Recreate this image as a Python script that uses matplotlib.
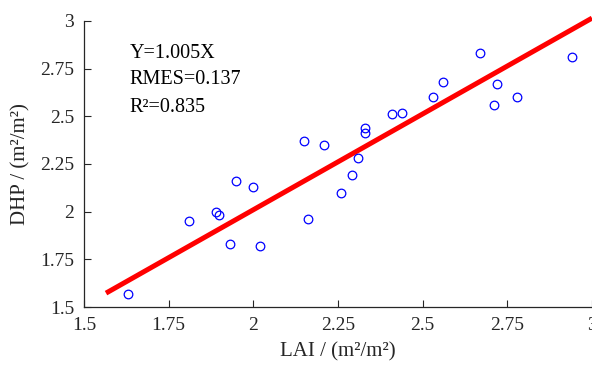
import numpy as np
import matplotlib
matplotlib.use("Agg")
from matplotlib import pyplot as plt

plt.rcParams['font.family'] = ['Liberation Serif', 'DejaVu Serif']

# LAI vs DHP samples
lai = [1.63, 1.81, 1.89, 1.90, 1.93, 1.95, 2.00, 2.02, 2.15, 2.16, 2.21, 2.26, 2.29,
       2.31, 2.33, 2.33, 2.41, 2.44, 2.53, 2.56, 2.67, 2.71, 2.72, 2.78, 2.94]
dhp = [1.57, 1.95, 2.00, 1.98, 1.83, 2.16, 2.13, 1.82, 2.37, 1.96, 2.35, 2.10, 2.19,
       2.28, 2.44, 2.41, 2.51, 2.52, 2.60, 2.68, 2.83, 2.56, 2.67, 2.60, 2.81]

slope = 1.005
fit_range = [1.565, 3.0]
ticks = [1.5, 1.75, 2, 2.25, 2.5, 2.75, 3]
tick_labels = ['1.5', '1.75', '2', '2.25', '2.5', '2.75', '3']

fig = plt.figure(figsize=(5.92, 3.65), dpi=100)
ax = fig.add_axes([0.1419, 0.1589, 0.8581, 0.7836])

xf = np.array(fit_range)
ax.plot(xf, slope * xf, color='red', lw=3.6, solid_capstyle='butt', zorder=2, clip_on=False)
ax.plot(lai, dhp, 'o', mfc='none', mec='blue', ms=6.2, mew=0.9, zorder=3)

ax.set_xlim(1.5, 3)
ax.set_ylim(1.5, 3)
ax.set_xticks(ticks)
ax.set_xticklabels(tick_labels)
ax.set_yticks(ticks)
ax.set_yticklabels(tick_labels)
ax.tick_params(direction='in', length=5, width=0.8, colors='#262626', labelsize=14, pad=7)

for s in ['top', 'right']:
    ax.spines[s].set_visible(False)
for s in ['left', 'bottom']:
    ax.spines[s].set_color('#262626')
    ax.spines[s].set_linewidth(0.9)

ax.set_xlabel('LAI / (m²/m²)', fontsize=15, color='#262626', labelpad=6)
ax.set_ylabel('DHP / (m²/m²)', fontsize=15, color='#262626', labelpad=7)

ax.text(0.09, 0.888, 'Y=1.005X', transform=ax.transAxes, fontsize=14.5, va='center')
ax.text(0.09, 0.794, 'RMES=0.137', transform=ax.transAxes, fontsize=14.5, va='center')
ax.text(0.09, 0.699, 'R²=0.835', transform=ax.transAxes, fontsize=14.5, va='center')

fig.savefig('out.png', dpi=100)
